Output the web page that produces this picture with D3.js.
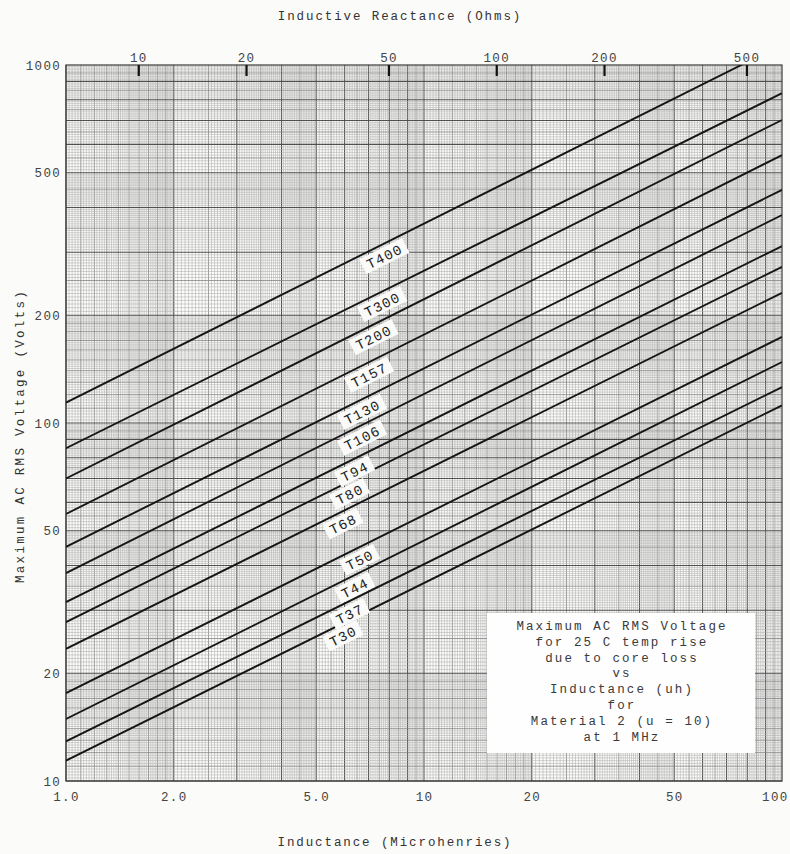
<!DOCTYPE html>
<html>
<head>
<meta charset="utf-8">
<script src="https://cdn.jsdelivr.net/npm/d3@7"></script>
<style>
    html, body { margin: 0; padding: 0; background: #fbfbf9; }
    svg text { font-family: "Liberation Mono", "DejaVu Sans Mono", monospace; fill: #333; }
</style>
</head>
<body>
<svg id="chart" width="790" height="854"></svg>
<script>
// === Data ===
const cores = ["T400", "T300", "T200", "T157", "T130", "T106", "T94", "T80", "T68", "T50", "T44", "T37", "T30"];
// max voltage (V rms) at 1 uH and at 100 uH
const vAt1 = [114, 85, 70, 55.7, 45.1, 38.1, 31.6, 27.8, 23.4, 17.6, 14.9, 12.9, 11.4];
const vAt100 = [1140, 834, 702, 560, 448, 381, 312, 273, 231, 174, 148, 126, 112];
// inductance (uH) where each core's tag sits
const labelAt = [7.5, 7.4, 7.0, 6.8, 6.5, 6.5, 6.2, 6.0, 5.75, 6.4, 6.2, 6.0, 5.75];

const xTicks = [1, 2, 5, 10, 20, 50, 100];
const xTickLabels = ["1.0", "2.0", "5.0", "10", "20", "50", "100"];
const yTicks = [10, 20, 50, 100, 200, 500, 1000];
const ohmTicks = [10, 20, 50, 100, 200, 500];
const freqMHz = 1;

const noteLines = [
    "Maximum AC RMS Voltage",
    "for 25 C temp rise",
    "due to core loss",
    "vs",
    "Inductance (uh)",
    "for",
    "Material 2 (u = 10)",
    "at 1 MHz"
];

const svg = d3.select("#chart");
const pLeft = 66, pRight = 782, pTop = 65, pBottom = 781;

const x = d3.scaleLog().domain([1, 100]).range([pLeft, pRight]);
const y = d3.scaleLog().domain([10, 1000]).range([pBottom, pTop]);
const xOhm = d3.scaleLog()
    .domain([2 * Math.PI * freqMHz * 1, 2 * Math.PI * freqMHz * 100])
    .range([pLeft, pRight]);

// === graph paper ===
svg.append("rect").attr("x", pLeft).attr("y", pTop)
    .attr("width", pRight - pLeft).attr("height", pBottom - pTop).attr("fill", "#fdfdfb");

// log paper rulings for one decade: [value, weight]
function rulings() {
    const out = [];
    const add = (a, b, step) => {
        for (let v = a; v < b - 1e-9; v += step) {
            const r = Math.round(v * 1000) / 1000;
            let w = 0;
            if (Math.abs(r - Math.round(r)) < 1e-6) w = 2;
            else if (Math.abs(r * 10 - Math.round(r * 10)) < 1e-6 && r < 2) w = 1;
            else if (Math.abs(r * 2 - Math.round(r * 2)) < 1e-6) w = 1;
            out.push([r, w]);
        }
    };
    add(1, 2, 0.02);
    add(2, 5, 0.05);
    add(5, 10, 0.1);
    return out;
}
const ruling = rulings();
const styles = [
    { stroke: "#adadad", width: 0.55 },
    { stroke: "#838383", width: 0.8 },
    { stroke: "#505050", width: 1.1 }
];

const grid = svg.append("g");
[1, 10].forEach(dec => {
    ruling.forEach(([v, w]) => {
        const px = x(v * dec);
        grid.append("line").attr("x1", px).attr("x2", px).attr("y1", pTop).attr("y2", pBottom)
            .attr("stroke", styles[w].stroke).attr("stroke-width", styles[w].width);
    });
});
[10, 100].forEach(dec => {
    ruling.forEach(([v, w]) => {
        const py = y(v * dec);
        grid.append("line").attr("y1", py).attr("y2", py).attr("x1", pLeft).attr("x2", pRight)
            .attr("stroke", styles[w].stroke).attr("stroke-width", styles[w].width);
    });
});
svg.append("rect").attr("x", pLeft).attr("y", pTop)
    .attr("width", pRight - pLeft).attr("height", pBottom - pTop)
    .attr("fill", "none").attr("stroke", "#3a3a3a").attr("stroke-width", 1.2);

// === note box ===
const note = svg.append("g");
note.append("rect").attr("x", 487).attr("y", 613).attr("width", 268).attr("height", 140).attr("fill", "#fefefe");
note.selectAll("text").data(noteLines).enter().append("text")
    .attr("x", 622).attr("y", (d, i) => 630 + i * 15.8)
    .attr("text-anchor", "middle")
    .style("font-size", "12.5px").style("letter-spacing", "2.1px").style("fill", "#3a3a3a")
    .text(d => d);

// === core lines ===
svg.append("clipPath").attr("id", "plotClip").append("rect")
    .attr("x", pLeft).attr("y", pTop).attr("width", pRight - pLeft).attr("height", pBottom - pTop);

const line = d3.line().x(d => x(d[0])).y(d => y(d[1]));
svg.append("g").attr("clip-path", "url(#plotClip)")
    .selectAll("path").data(cores).enter().append("path")
    .attr("d", (c, i) => line([[1, vAt1[i]], [100, vAt100[i]]]))
    .attr("fill", "none").attr("stroke", "#161616").attr("stroke-width", 1.9);

// === core tags ===
const tags = svg.append("g");
cores.forEach((c, i) => {
    const L = labelAt[i];
    const k = Math.log(vAt100[i] / vAt1[i]) / Math.log(100);
    const v = vAt1[i] * Math.pow(L, k);
    const px = x(L), py = y(v);
    const ang = Math.atan2(y(vAt100[i]) - y(vAt1[i]), x(100) - x(1)) * 180 / Math.PI;
    const g = tags.append("g")
        .attr("transform", `translate(${px},${py}) rotate(${ang}) translate(0,11.5)`);
    const w = c.length * 10 + 8;
    g.append("rect").attr("x", -w / 2).attr("y", -8.5).attr("width", w).attr("height", 16.5).attr("fill", "#fafaf8");
    g.append("text").attr("text-anchor", "middle").attr("y", 5)
        .style("font-size", "14px").style("letter-spacing", "1.2px").style("fill", "#222")
        .text(c);
});

// === axes ===
const fontAxis = g => g.selectAll("text")
    .style("font-family", "Liberation Mono, DejaVu Sans Mono, monospace")
    .style("font-size", "12.5px").style("letter-spacing", "1.3px").style("fill", "#444");

svg.append("g").attr("transform", `translate(0,${pBottom})`)
    .call(d3.axisBottom(x).tickValues(xTicks).tickFormat((d, i) => xTickLabels[i]).tickSize(0).tickPadding(11))
    .call(g => g.select(".domain").remove())
    .call(fontAxis)
    .call(g => g.selectAll(".tick:last-of-type text").attr("text-anchor", "end").attr("x", 6));

svg.append("g").attr("transform", `translate(${pLeft - 5},0)`)
    .call(d3.axisLeft(y).tickValues(yTicks).tickFormat(d3.format("d")).tickSize(0).tickPadding(0))
    .call(g => g.select(".domain").remove())
    .call(fontAxis);

svg.append("g").attr("transform", `translate(0,${pTop})`)
    .call(d3.axisTop(xOhm).tickValues(ohmTicks).tickFormat(d3.format("d")).tickSize(-11).tickPadding(3))
    .call(g => g.select(".domain").remove())
    .call(g => g.selectAll("line").attr("stroke", "#111").attr("stroke-width", 2.2))
    .call(fontAxis);

// === titles ===
svg.append("text").attr("x", 400).attr("y", 20).attr("text-anchor", "middle")
    .style("font-size", "12.5px").style("letter-spacing", "1.9px")
    .text("Inductive Reactance (Ohms)");
svg.append("text").attr("x", 395).attr("y", 846).attr("text-anchor", "middle")
    .style("font-size", "12.5px").style("letter-spacing", "1.9px")
    .text("Inductance (Microhenries)");
svg.append("text").attr("transform", "translate(24,436) rotate(-90)").attr("text-anchor", "middle")
    .style("font-size", "12.5px").style("letter-spacing", "2.3px")
    .text("Maximum AC RMS Voltage (Volts)");
</script>
</body>
</html>
